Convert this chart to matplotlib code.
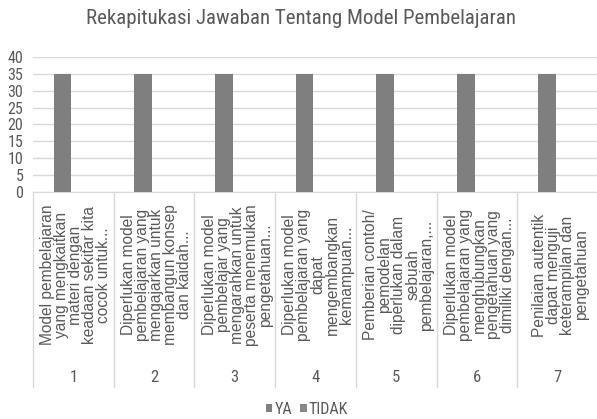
import matplotlib
matplotlib.use("Agg")
import matplotlib.pyplot as plt
import numpy as np

title = "Rekapitukasi Jawaban Tentang Model Pembelajaran"
numbers = ["1", "2", "3", "4", "5", "6", "7"]
statements = [
    "Model pembelajaran\nyang mengkaitkan\nmateri dengan\nkeadaan sekitar kita\ncocok untuk...",
    "Diperlukan model\npembelajaran yang\nmengajarkan untuk\nmembangun konsep\ndan kaidah...",
    "Diperlukan model\npembelajar yang\nmengarahkan untuk\npeserta menemukan\npengetahuan...",
    "Diperlukan model\npembelajaran yang\ndapat\nmengembangkan\nkemampuan...",
    "Pemberian contoh/\npemodelan\ndiperlukan dalam\nsebuah\npembelajaran,...",
    "Diperlukan model\npembelajaran yang\nmenghubungkan\npengetahuan yang\ndimiliki dengan...",
    "Penilaian autentik\ndapat menguji\nketerampilan dan\npengetahuan",
]
ya = [35, 35, 35, 35, 35, 35, 35]
tidak = [0, 0, 0, 0, 0, 0, 0]
yticks = [0, 5, 10, 15, 20, 25, 30, 35, 40]

narrow = ["Roboto Condensed", "DejaVu Sans"]
regular = ["Liberation Sans", "DejaVu Sans"]
txt = "#595959"
grid = "#d9d9d9"
bar_c = "#7f7f7f"

fig = plt.figure(figsize=(5.97, 4.19), dpi=100)
ax = fig.add_axes([33/597, 1-192/419, 565/597, 135/419])

x = np.arange(len(numbers))
w = 0.22
ax.bar(x - 0.135, ya, width=w, color=bar_c, label="YA", zorder=3)
ax.bar(x + 0.135, tidak, width=w, color="#878787", label="TIDAK", zorder=3)

ax.set_xlim(-0.5, len(numbers) - 0.5)
ax.set_ylim(0, 40)
ax.set_yticks(yticks)
ax.set_yticklabels([str(v) for v in yticks], fontfamily=narrow, fontsize=11.5, color=txt)
ax.tick_params(axis="y", length=0, pad=7)
ax.tick_params(axis="x", length=0, labelbottom=False)
ax.yaxis.grid(True, color=grid, linewidth=1, zorder=0)
for s in ["top", "right", "left"]:
    ax.spines[s].set_visible(False)
ax.spines["bottom"].set_color(grid)

trans = ax.get_xaxis_transform()
# category separators
for k in range(len(numbers) + 1):
    ax.plot([k - 0.5, k - 0.5], [0, -195/135], transform=trans, color=grid,
            linewidth=1, clip_on=False)

# two-level category labels
for i, (s, n) in enumerate(zip(statements, numbers)):
    ax.text(i + 0.03, -(275-192)/135, s, transform=trans, rotation=90,
            ha="center", va="center", rotation_mode="anchor", multialignment="center",
            fontfamily=regular, fontsize=11.2, color=txt, linespacing=0.92)
    ax.text(i, -(378-192)/135, n, transform=trans, ha="center", va="center",
            fontfamily=narrow, fontsize=12, color=txt)

fig.text(0.505, 1-19/419, title, ha="center", va="center", fontfamily=narrow,
         fontsize=15, color=txt)

fig.legend(loc="center", bbox_to_anchor=(307/597, 1-409/419), ncol=2, frameon=False,
           prop={"family": narrow, "size": 11.5}, handlelength=0.4, handleheight=0.4,
           handletextpad=0.15, columnspacing=0.5, labelcolor=txt)

fig.savefig("out.png", dpi=100)
